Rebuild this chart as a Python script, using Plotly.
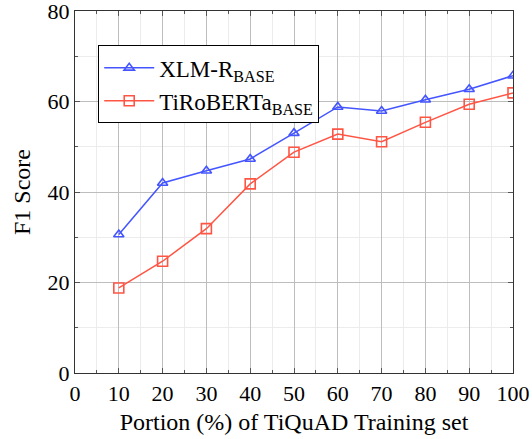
import plotly.graph_objects as go

portion = [10, 20, 30, 40, 50, 60, 70, 80, 90, 100]
xlmr = [30.6, 42.0, 44.7, 47.3, 53.0, 58.8, 57.9, 60.4, 62.7, 65.7]
tiroberta = [18.8, 24.7, 31.9, 41.8, 48.8, 52.8, 51.1, 55.4, 59.4, 61.9]
x_ticks = [0, 10, 20, 30, 40, 50, 60, 70, 80, 90, 100]
y_ticks = [0, 20, 40, 60, 80]

BLUE = "#4455ff"
RED = "#ff5544"
FONT = "Liberation Serif"

fig = go.Figure()
fig.add_trace(go.Scatter(
    x=portion, y=xlmr, mode="lines+markers",
    name="XLM-R<sub>BASE</sub>",
    line=dict(color=BLUE, width=1.5),
    marker=dict(symbol="triangle-up-open", size=9, color=BLUE, line=dict(width=1.6, color=BLUE)),
))
fig.add_trace(go.Scatter(
    x=portion, y=tiroberta, mode="lines+markers",
    name="TiRoBERTa<sub>BASE</sub>",
    line=dict(color=RED, width=1.5),
    marker=dict(symbol="square-open", size=10, color=RED, line=dict(width=1.6, color=RED)),
))

axis_common = dict(
    showline=True, linecolor="#333333", linewidth=1.2, mirror="ticks",
    ticks="inside", ticklen=5, tickcolor="#555555",
    showgrid=True, gridcolor="#bdbdbd", gridwidth=1,
    zeroline=False, automargin=False, ticklabeloverflow="allow",
    tickfont=dict(family=FONT, size=22, color="black"),
)

fig.update_xaxes(
    range=[0, 100], tickvals=x_ticks,
    minor=dict(dtick=5, showgrid=True, gridcolor="#ececec", ticks="inside", ticklen=3, tickcolor="#555555"),
    title=dict(text="Portion (%) of TiQuAD Training set", font=dict(family=FONT, size=24, color="black"), standoff=8),
    **axis_common,
)
fig.update_yaxes(
    range=[0, 80], tickvals=y_ticks,
    minor=dict(dtick=10, showgrid=True, gridcolor="#ececec", ticks="inside", ticklen=3, tickcolor="#555555"),
    title=dict(text="F1 Score", font=dict(family=FONT, size=24, color="black"), standoff=10),
    **axis_common,
)

fig.update_layout(
    width=532, height=439,
    margin=dict(l=75, r=19, t=11, b=66),
    plot_bgcolor="white", paper_bgcolor="white",
    font=dict(family=FONT, color="black"),
    legend=dict(
        x=0.053, y=0.905, xanchor="left", yanchor="top",
        bgcolor="white", bordercolor="black", borderwidth=1,
        font=dict(family=FONT, size=23, color="black"),
        itemwidth=50, tracegroupgap=0,
    ),
    showlegend=True,
)

fig.write_html(
    "out.html",
    config={"displayModeBar": False},
    post_script="document.body.style.margin='0';document.body.style.overflow='hidden';",
)
